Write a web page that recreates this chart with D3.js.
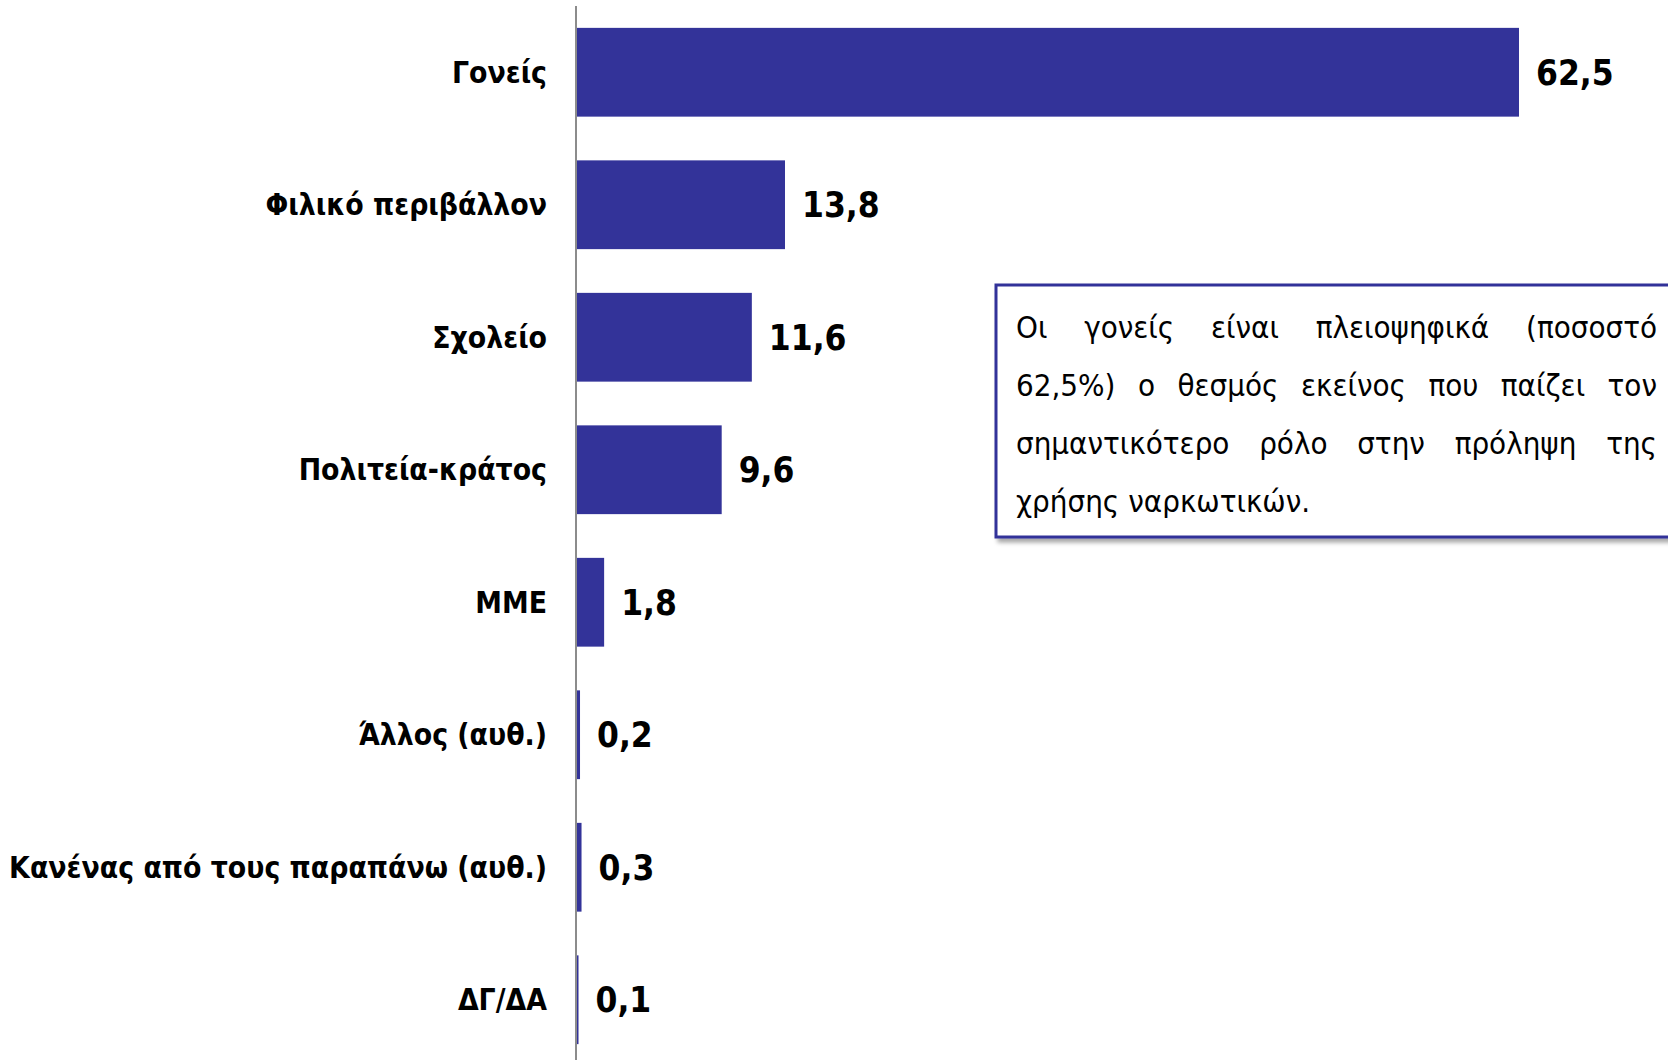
<!DOCTYPE html>
<html lang="el">
<head>
<meta charset="utf-8">
<script src="https://cdn.jsdelivr.net/npm/d3@7"></script>
<style>
  html, body { margin: 0; padding: 0; background: #fff; }
  svg { display: block; }
  .label { font-family: 'DejaVu Sans Condensed', 'DejaVu Sans', sans-serif; font-weight: bold; fill: #000; }
  .note { font-family: 'DejaVu Sans Condensed', 'DejaVu Sans', sans-serif; fill: #000; }
</style>
</head>
<body>
<div id="chart"></div>
<script>
const categories = [
  'Γονείς',
  'Φιλικό περιβάλλον',
  'Σχολείο',
  'Πολιτεία-κράτος',
  'ΜΜΕ',
  'Άλλος (αυθ.)',
  'Κανένας από τους παραπάνω (αυθ.)',
  'ΔΓ/ΔΑ',
];
const values = [62.5, 13.8, 11.6, 9.6, 1.8, 0.2, 0.3, 0.1];
const noteLines = [
  'Οι γονείς είναι πλειοψηφικά (ποσοστό',
  '62,5%) ο θεσμός εκείνος που παίζει τον',
  'σημαντικότερο ρόλο στην πρόληψη της',
  'χρήσης ναρκωτικών.',
];

const width = 1668;
const height = 1060;
const barColor = '#333399';

const svg = d3.select('#chart')
  .append('svg')
  .attr('width', width)
  .attr('height', height);

const defs = svg.append('defs');
const shadow = defs.append('filter')
  .attr('id', 'shadow')
  .attr('x', '-5%')
  .attr('y', '-5%')
  .attr('width', '115%')
  .attr('height', '120%');
shadow.append('feDropShadow')
  .attr('dx', 3)
  .attr('dy', 4)
  .attr('stdDeviation', 2)
  .attr('flood-color', '#000')
  .attr('flood-opacity', 0.35);

const x = d3.scaleLinear()
  .domain([0, 62.5])
  .range([577, 1519]);

const y = d3.scaleBand()
  .domain(categories)
  .range([6, 1066])
  .paddingInner(0.33)
  .paddingOuter(0.165);

// bars
svg.append('g')
  .selectAll('rect')
  .data(values)
  .enter()
  .append('rect')
  .attr('x', x(0))
  .attr('y', (d, i) => y(categories[i]))
  .attr('width', (d) => x(d) - x(0))
  .attr('height', y.bandwidth())
  .attr('fill', barColor);

// value labels
svg.append('g')
  .selectAll('text')
  .data(values)
  .enter()
  .append('text')
  .attr('class', 'label')
  .attr('x', (d) => x(d) + 17)
  .attr('y', (d, i) => y(categories[i]) + y.bandwidth() / 2)
  .attr('dy', '0.36em')
  .style('font-size', '35px')
  .text((d) => d3.format('.1f')(d).replace('.', ','));

// category labels
svg.append('g')
  .selectAll('text')
  .data(categories)
  .enter()
  .append('text')
  .attr('class', 'label')
  .attr('x', 547)
  .attr('y', (d) => y(d) + y.bandwidth() / 2)
  .attr('dy', '0.36em')
  .attr('text-anchor', 'end')
  .style('font-size', '29.8px')
  .text((d) => d);

// axis line
svg.append('line')
  .attr('x1', 576)
  .attr('x2', 576)
  .attr('y1', 6)
  .attr('y2', height)
  .attr('stroke', '#8c8c8c')
  .attr('stroke-width', 2);

// annotation box
const box = { left: 996, top: 285, bottom: 537 };
svg.append('rect')
  .attr('x', box.left)
  .attr('y', box.top)
  .attr('width', width - box.left + 40)
  .attr('height', box.bottom - box.top)
  .attr('fill', '#fff')
  .attr('stroke', barColor)
  .attr('stroke-width', 3)
  .attr('filter', 'url(#shadow)');

const textLeft = 1016;
const textRight = 1657;
const note = svg.append('g');
noteLines.forEach((line, li) => {
  const words = line.split(' ');
  const baseY = 338 + li * 58;
  const nodes = words.map((w) => note.append('text')
    .attr('class', 'note')
    .attr('y', baseY)
    .style('font-size', '31px')
    .text(w));
  const widths = nodes.map((n) => n.node().getComputedTextLength());
  const total = d3.sum(widths);
  const last = li === noteLines.length - 1;
  const gap = last ? 9 : (textRight - textLeft - total) / (words.length - 1);
  let cx = textLeft;
  nodes.forEach((n, i) => {
    n.attr('x', cx);
    cx += widths[i] + gap;
  });
});
</script>
</body>
</html>
